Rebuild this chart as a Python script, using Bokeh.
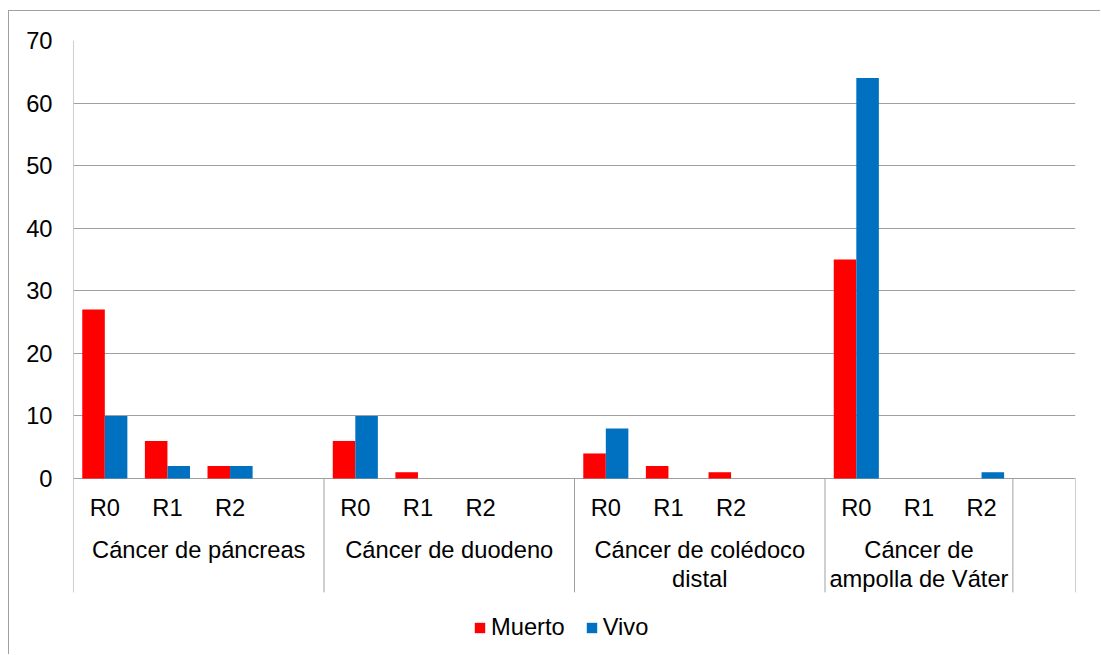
from bokeh.plotting import figure
from bokeh.models import Range1d, FixedTicker, ColumnDataSource, Legend, LegendItem
from bokeh.core.properties import value
from bokeh.embed import file_html
from bokeh.resources import INLINE

# --- data -------------------------------------------------------------
groups = ["Cáncer de páncreas", "Cáncer de duodeno",
          "Cáncer de colédoco\ndistal", "Cáncer de\nampolla de Váter"]
margins = ["R0", "R1", "R2"]
muerto = [27, 6, 2,   6, 1, 0,   4, 2, 1,   35, 0, 0]
vivo = [10, 2, 2,   10, 0, 0,   8, 0, 0,   64, 0, 1]
y_ticks = [0, 10, 20, 30, 40, 50, 60, 70]

# slots per group on the category axis (groups 1-3 carry an empty slot,
# the last group is followed by one blank category)
group_slots = [4, 4, 4, 3, 1]

FONT = "Liberation Sans"
FS = "23.7px"
RED = "#FF0000"
BLUE = "#0070C0"
GRID = "#a0a0a0"

# --- geometry of the category axis ------------------------------------
starts = []
s = 0
for n in group_slots:
    starts.append(s)
    s += n
n_slots = s

cat_x, cat_lab = [], []
for g in range(len(groups)):
    for k, m in enumerate(margins):
        cat_x.append(starts[g] + k + 0.5)
        cat_lab.append(m)

bar_w = 0.36
src = ColumnDataSource(dict(
    xr=[x - bar_w / 2 for x in cat_x],
    xb=[x + bar_w / 2 for x in cat_x],
    muerto=muerto, vivo=vivo))

p = figure(width=1092, height=644, output_backend="svg", toolbar_location=None,
           x_range=Range1d(0, n_slots), y_range=Range1d(-28.29, 70),
           x_axis_location=None, min_border_left=64, min_border_right=26,
           min_border_top=29, min_border_bottom=0)
# chart area border (left and top edges show inside the window)
p.margin = (10, 0, 0, 8)
p.styles = {"border-left": f"1px solid {GRID}", "border-top": f"1px solid {GRID}"}
p.outline_line_color = None
p.background_fill_color = "white"
p.border_fill_color = "white"

# value axis
p.yaxis.ticker = FixedTicker(ticks=y_ticks)
p.yaxis.axis_line_color = None
p.yaxis.major_tick_line_color = None
p.yaxis.minor_tick_line_color = None
p.yaxis.major_label_standoff = 15
p.yaxis.major_label_text_font = FONT
p.yaxis.major_label_text_font_size = FS
p.yaxis.major_label_text_color = "black"
p.xgrid.visible = False
p.ygrid.grid_line_color = GRID
p.ygrid.grid_line_width = 1

# bars
r_m = p.vbar(x="xr", top="muerto", width=bar_w, bottom=0, source=src,
             fill_color=RED, line_color=None)
r_v = p.vbar(x="xb", top="vivo", width=bar_w, bottom=0, source=src,
             fill_color=BLUE, line_color=None)

# category axis: left axis line and group dividers
y_low = -18.2
div_x = [starts[g] for g in range(len(group_slots))] + [n_slots]
p.segment(x0=[0], y0=[70], x1=[0], y1=[y_low], line_color=GRID, line_width=1)
p.segment(x0=div_x[1:], y0=[0] * (len(div_x) - 1), x1=div_x[1:],
          y1=[y_low] * (len(div_x) - 1), line_color=GRID, line_width=1)

# inner category labels
p.text(x=cat_x, y=[-4.65] * len(cat_x), text=cat_lab, text_align="center",
       text_baseline="middle", text_font=value(FONT), text_font_size=FS,
       text_color="black")

# group labels (one or two lines)
gx = [starts[g] + group_slots[g] / 2 for g in range(len(groups))]
line1 = [g.split("\n")[0] for g in groups]
line2 = [g.split("\n")[1] if "\n" in g else "" for g in groups]
p.text(x=gx, y=[-11.4] * len(gx), text=line1, text_align="center",
       text_baseline="middle", text_font=value(FONT), text_font_size=FS,
       text_color="black")
p.text(x=gx, y=[-16.0] * len(gx), text=line2, text_align="center",
       text_baseline="middle", text_font=value(FONT), text_font_size=FS,
       text_color="black")

# legend
legend = Legend(items=[LegendItem(label="Muerto", renderers=[r_m]),
                       LegendItem(label="Vivo", renderers=[r_v])],
                orientation="horizontal", location=(400, 14),
                glyph_width=13, glyph_height=13, label_standoff=5, spacing=20,
                padding=0, margin=0, border_line_color=None,
                background_fill_alpha=0, label_text_font=FONT,
                label_text_font_size=FS, label_text_color="black")
p.add_layout(legend)

open("out.html", "w").write(file_html(p, INLINE))
